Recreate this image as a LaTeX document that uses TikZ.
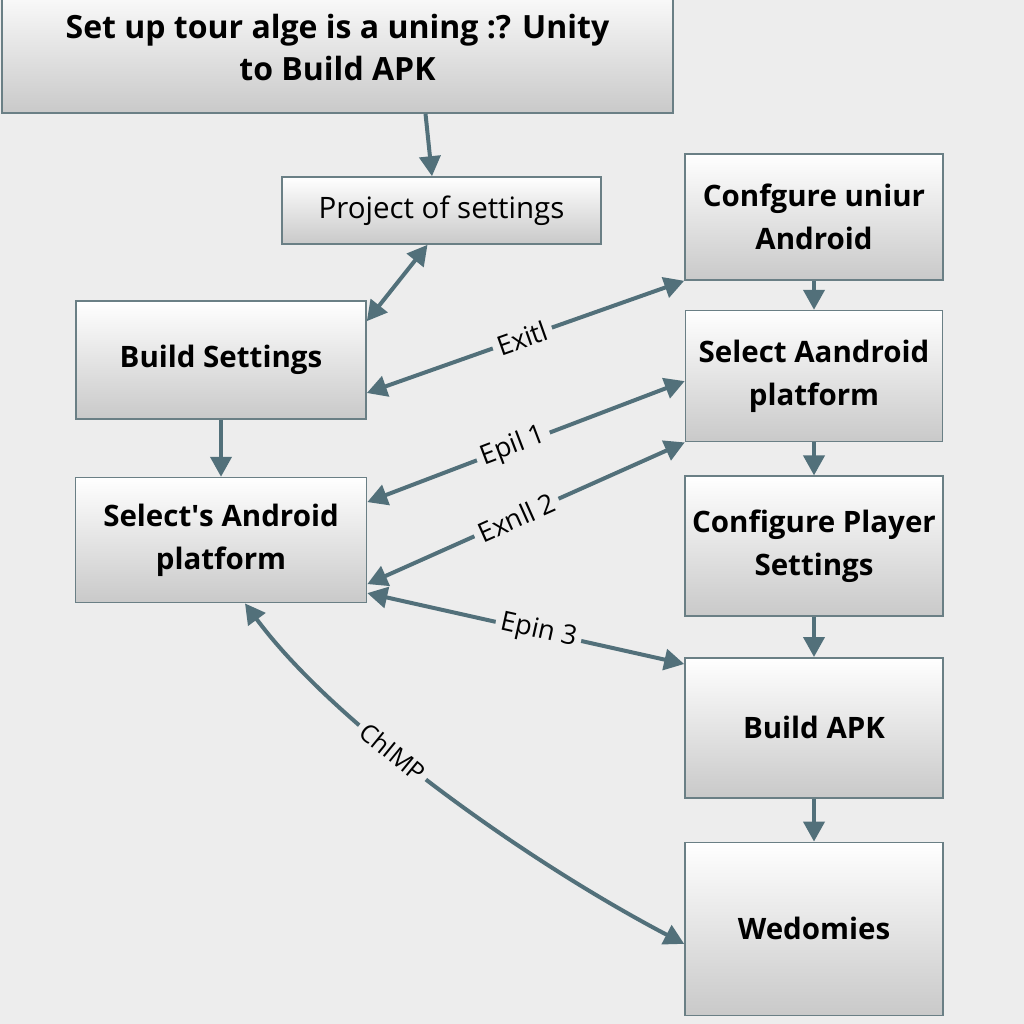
\documentclass[tikz,border=0pt]{standalone}
\usepackage{fontspec}
\setmainfont{Open Sans}
\usepackage{xcolor}
\usepackage{tikz}
\usetikzlibrary{arrows.meta, positioning}

\definecolor{bgcol}{HTML}{EDEDED}
\definecolor{linecol}{HTML}{52707A}
\definecolor{boxline}{HTML}{6A7F85}
\definecolor{boxgray}{HTML}{C9C9C9}

\begin{document}
\begin{tikzpicture}[
    x=1pt, y=-1pt,
    node distance=30pt,
    stepbox/.style={rectangle, draw=boxline, line width=1.6pt, top color=white, bottom color=boxgray, align=center, inner sep=2pt, font=\bfseries\fontsize{29.5}{43}\selectfont},
    plainbox/.style={stepbox, font=\fontsize{29.5}{35}\selectfont},
    lbl/.style={fill=bgcol, sloped, inner sep=5pt, font=\fontsize{27}{30}\selectfont},
    arrow/.style={-{Triangle[length=20pt,width=21pt]}, line width=4pt, draw=linecol},
    biarrow/.style={{Triangle[length=20pt,width=21pt]}-{Triangle[length=20pt,width=21pt]}, line width=4pt, draw=linecol}
]

% Background
\fill[bgcol] (0,0) rectangle (1024,1024);
\useasboundingbox (0,0) rectangle (1024,1024);

% Left column
\node[stepbox, minimum width=671pt, minimum height=130pt, font=\bfseries\fontsize{32}{42}\selectfont] (title) at (337.5,48) {Set up tour alge is a uning :? Unity\\to Build APK};
\node[plainbox, minimum width=319pt, minimum height=67pt] (proj) at (441.5,210.5) {Project of settings};
\node[stepbox, minimum width=290pt, minimum height=118pt] (build_set) at (221,360) {Build Settings};
\node[stepbox, minimum width=291pt, minimum height=125pt, below=57pt of build_set] (sel_and) {Select\textquotesingle s Android\\platform};

% Right column
\node[stepbox, minimum width=258pt, minimum height=126pt] (conf_and) at (814,217) {Confgure uniur\\Android};
\node[stepbox, minimum width=257pt, minimum height=131pt, below=29pt of conf_and] (sel_aand) {Select Aandroid\\platform};
\node[stepbox, minimum width=258pt, minimum height=140pt, below=33pt of sel_aand] (conf_player) {Configure Player\\Settings};
\node[stepbox, minimum width=258pt, minimum height=140pt, below=40pt of conf_player] (build_apk) {Build APK};
\node[stepbox, minimum width=258pt, minimum height=173pt, below=43pt of build_apk] (wedo) {Wedomies};

% Arrows
\draw[arrow] ([xshift=88pt]title.south) -- ([xshift=-9.5pt]proj.north);
\draw[biarrow] ([xshift=-14pt]proj.south) -- ([yshift=-21pt]build_set.north east);
\draw[arrow] (build_set) -- (sel_and);
\draw[arrow] (conf_and) -- (sel_aand);
\draw[arrow] (sel_aand) -- (conf_player);
\draw[arrow] (conf_player) -- (build_apk);
\draw[arrow] (build_apk) -- (wedo);

% Cross links
\draw[biarrow] ([yshift=-33pt]build_set.east) -- node[lbl, pos=0.49] {Exitl} (conf_and.south west);
\draw[biarrow] ([yshift=38pt]sel_and.east) -- node[lbl, pos=0.46] {Epil 1} ([yshift=-5pt]sel_aand.west);
\draw[biarrow] ([yshift=-44pt]sel_and.east) -- node[lbl, pos=0.47] {Exnll 2} (sel_aand.south west);
\draw[biarrow] ([yshift=-53pt]sel_and.east) -- node[lbl, pos=0.54] {Epin 3} ([yshift=-7pt]build_apk.north west);
\draw[biarrow] ([xshift=24pt]sel_and.south) .. controls (335,725) and (526,861) .. node[lbl, pos=0.4, font=\fontsize{25}{28}\selectfont] {ChIMP} ([yshift=-15pt]wedo.west);

\end{tikzpicture}
\end{document}
